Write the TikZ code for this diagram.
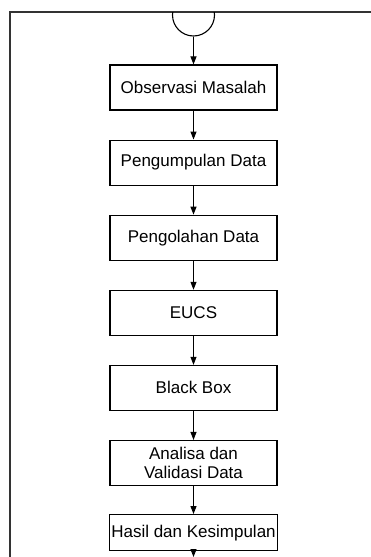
\documentclass[tikz,border=0pt]{standalone}
\usepackage{fontspec}
\setmainfont{Liberation Sans}
\usetikzlibrary{positioning,arrows.meta}

\begin{document}
\begin{tikzpicture}[x=1pt, y=-1pt,
node distance = 29pt,
  box/.style = {rectangle, draw, line width=1.1pt, minimum width=167pt, minimum height=45pt,
                align=center, inner sep=2pt, font=\fontsize{17}{19.5}\selectfont},
  arr/.style = {line width=1pt, -{Triangle[width=6pt,length=8pt]}}
                    ]
\useasboundingbox (0,0) rectangle (371,557);
% frame
\draw[line width=2pt, gray!40!black] (371,12) -- (10,12) -- (10,557);
% connector at the top
\begin{scope}
\clip (150,12) rectangle (240,60);
\node (start) [circle, draw, line width=1.1pt, minimum size=42pt, inner sep=0pt] at (193.5,15) {};
\end{scope}

\node (obs) [box] at (193.5,87.5) {Observasi Masalah};
\node (kumpul) [box, below=of obs] {Pengumpulan Data};
\node (olah) [box, below=of kumpul] {Pengolahan Data};
\node (eucs) [box, below=of olah] {EUCS};
\node (bbox) [box, below=of eucs] {Black Box};
\node (analisa) [box, below=of bbox] {Analisa dan\\Validasi Data};
\node (hasil) [box, below=28pt of analisa, minimum height=36pt] {Hasil dan Kesimpulan};
\coordinate (end) at (hasil.south |- 0,557);

\draw[arr] (start.south) -- (obs);
\draw[arr] (obs) -- (kumpul);
\draw[arr] (kumpul) -- (olah);
\draw[arr] (olah) -- (eucs);
\draw[arr] (eucs) -- (bbox);
\draw[arr] (bbox) -- (analisa);
\draw[arr] (analisa) -- (hasil);
\draw[arr] (hasil) -- (end);
\end{tikzpicture}
\end{document}
